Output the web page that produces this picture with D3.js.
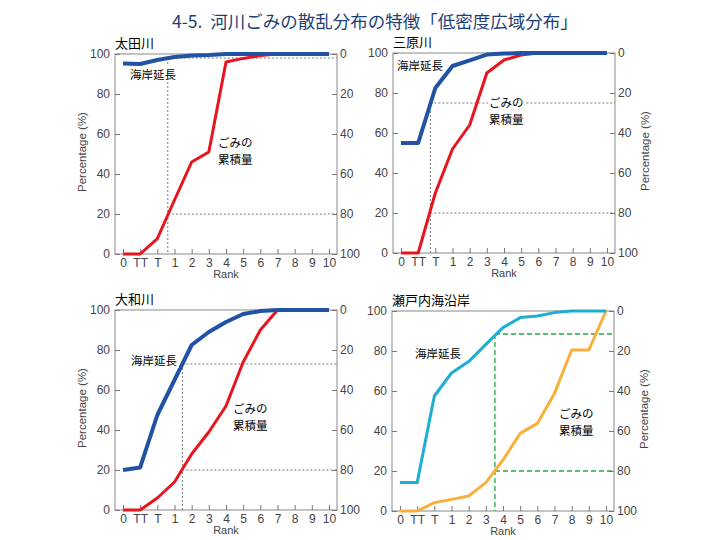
<!DOCTYPE html>
<html><head><meta charset="utf-8">
<script src="https://cdn.jsdelivr.net/npm/d3@7"></script>
<style>body{margin:0;background:#fff}</style>
</head><body>
<svg id="c" width="720" height="540"></svg>
<script>
// ---- data ----
const titleText = "4-5.  河川ごみの散乱分布の特徴「低密度広域分布」";
const categories = ["0","TT","T","1","2","3","4","5","6","7","8","9","10"];
const yTicks = [0,20,40,60,80,100];

const otaCoast   = [95.2, 95, 97, 98.5, 99.3, 99.5, 100, 100, 100, 100, 100, 100, 100];
const otaLitter  = [0, 0, 7.7, 27, 46, 51, 96, 97.8, 99.2, 100, 100, 100, 100];
const otaMark    = [2.61, 98, 20];     // vertical index, upper level, lower level

const miharaCoast  = [55, 55, 82.5, 93.5, 96.3, 99.2, 99.7, 100, 100, 100, 100, 100, 100];
const miharaLitter = [0, 0, 30, 52, 64, 90, 96.5, 99, 100, 100, 100, 100, 100];
const miharaMark   = [1.71, 75, 20];

const yamatoCoast  = [20, 21.3, 47.5, 65, 82.5, 89, 94, 98, 99.5, 100, 100, 100, 100];
const yamatoLitter = [0, 0, 6, 14, 28, 39, 52, 74, 90, 100, 100, 100, 100];
const yamatoMark   = [3.46, 73, 20];

const setoCoast  = [14.2, 14.2, 57.5, 69, 74.7, 83.3, 91.7, 96.7, 97.5, 99.2, 100, 100, 100];
const setoLitter = [0, 0, 4.2, 5.8, 7.5, 14.2, 25.5, 38.8, 43.8, 58.8, 80.5, 80.5, 100];
const setoMark   = [5.53, 88.5, 20];

const panelNames = ["太田川","三原川","大和川","瀬戸内海沿岸"];
const coastLabel = "海岸延長";
const litterLabel = ["ごみの","累積量"];

// ---- layout ----
const panels = [
  {name:panelNames[0], coast:otaCoast, litter:otaLitter, mark:otaMark, left:115, top:54, ylab:"left",
   cc:"#2152a3", lc:"#e8141e", mc:"#777", md:"2,2", mw:1, cw:4, lw:3,
   cl:[130,79], ll:[218,147]},
  {name:panelNames[1], coast:miharaCoast, litter:miharaLitter, mark:miharaMark, left:393, top:53, ylab:"right",
   cc:"#2152a3", lc:"#e8141e", mc:"#777", md:"2,2", mw:1, cw:4, lw:3,
   cl:[397,70], ll:[489,107]},
  {name:panelNames[2], coast:yamatoCoast, litter:yamatoLitter, mark:yamatoMark, left:115, top:310, ylab:"left",
   cc:"#2152a3", lc:"#e8141e", mc:"#777", md:"2,2", mw:1, cw:4, lw:3,
   cl:[131,365], ll:[233,413]},
  {name:panelNames[3], coast:setoCoast, litter:setoLitter, mark:setoMark, left:392, top:311, ylab:"right",
   cc:"#1eaed2", lc:"#f8b03c", mc:"#22a844", md:"5,3", mw:1.3, cw:3, lw:3,
   cl:[415,358], ll:[559,418]}
];
const W = 222, H = 200, pad = 8;

const svg = d3.select("#c");
svg.append("rect").attr("width",720).attr("height",540).attr("fill","#fff");
svg.append("text").attr("x",172).attr("y",28)
  .attr("font-family","'Noto Sans CJK JP'").attr("font-size",17.5)
  .attr("fill","#1c3f78").attr("xml:space","preserve").text(titleText);

panels.forEach(p => {
  const g = svg.append("g");
  const x = d3.scaleLinear().domain([0,12]).range([p.left+pad, p.left+W-pad]);
  const y = d3.scaleLinear().domain([0,100]).range([p.top+H, p.top]);
  const yR = d3.scaleLinear().domain([100,0]).range([p.top+H, p.top]);

  // frame
  g.append("rect").attr("x",p.left).attr("y",p.top).attr("width",W).attr("height",H)
    .attr("fill","none").attr("stroke","#888").attr("stroke-width",1);

  const styleAxis = sel => {
    sel.select(".domain").remove();
    sel.selectAll(".tick line").attr("stroke","#777");
    sel.selectAll(".tick text").attr("fill","#444")
      .attr("font-family","'Liberation Sans', Arial, sans-serif").attr("font-size",12);
  };
  g.append("g").attr("transform",`translate(${p.left},0)`)
    .call(d3.axisLeft(y).tickValues(yTicks).tickSize(-5).tickPadding(5)).call(styleAxis);
  g.append("g").attr("transform",`translate(${p.left+W},0)`)
    .call(d3.axisRight(yR).tickValues(yTicks).tickSize(-5).tickPadding(3)).call(styleAxis);
  g.append("g").attr("transform",`translate(0,${p.top+H})`)
    .call(d3.axisBottom(x).tickValues(d3.range(categories.length)).tickFormat(i=>categories[i])
      .tickSize(-5).tickPadding(4)).call(styleAxis);

  g.append("text").attr("x",p.left+W/2).attr("y",p.top+H+24).attr("text-anchor","middle")
    .attr("font-family","'Liberation Sans', Arial, sans-serif").attr("font-size",11).attr("fill","#444")
    .text("Rank");
  const lx = p.ylab==="left" ? p.left-33 : p.left+W+30;
  const ly = p.top+H/2 - 2;
  g.append("text").attr("transform",`translate(${lx},${ly}) rotate(-90)`).attr("text-anchor","middle")
    .attr("dy","0.35em")
    .attr("font-family","'Liberation Sans', Arial, sans-serif").attr("font-size",11.5).attr("fill","#444")
    .text("Percentage (%)");

  g.append("text").attr("x",p.left).attr("y",p.top-6)
    .attr("font-family","'Noto Sans CJK JP'").attr("font-size",13).attr("fill","#000").text(p.name);

  // dashed guide lines
  const mx = x(p.mark[0]);
  const dash = sel => sel.attr("stroke",p.mc).attr("stroke-width",p.mw).attr("stroke-dasharray",p.md).attr("fill","none");
  g.append("line").attr("x1",mx).attr("x2",mx).attr("y1",y(p.mark[1])).attr("y2",p.top+H).call(dash);
  g.append("line").attr("x1",mx).attr("x2",p.left+W).attr("y1",y(p.mark[1])).attr("y2",y(p.mark[1])).call(dash);
  g.append("line").attr("x1",mx).attr("x2",p.left+W).attr("y1",y(p.mark[2])).attr("y2",y(p.mark[2])).call(dash);

  const line = d3.line().x((d,i)=>x(i)).y(d=>y(d));
  g.append("path").datum(p.litter).attr("d",line).attr("fill","none").attr("stroke",p.lc)
    .attr("stroke-width",p.lw).attr("stroke-linejoin","round");
  g.append("path").datum(p.coast).attr("d",line).attr("fill","none").attr("stroke",p.cc)
    .attr("stroke-width",p.cw).attr("stroke-linejoin","round");

  // labels with white background
  const addLabel = (lines, px, py) => {
    const lg = g.append("g");
    lines.forEach((s,i)=> lg.append("text").attr("x",px).attr("y",py+i*16.5)
      .attr("font-family","'Noto Sans CJK JP'").attr("font-size",11.5).attr("fill","#000").text(s));
    const b = lg.node().getBBox();
    lg.insert("rect","text").attr("x",b.x-1).attr("y",b.y).attr("width",b.width+2).attr("height",b.height).attr("fill","#fff");
  };
  addLabel([coastLabel], p.cl[0], p.cl[1]);
  addLabel(litterLabel, p.ll[0], p.ll[1]);
});
</script>
</body></html>
